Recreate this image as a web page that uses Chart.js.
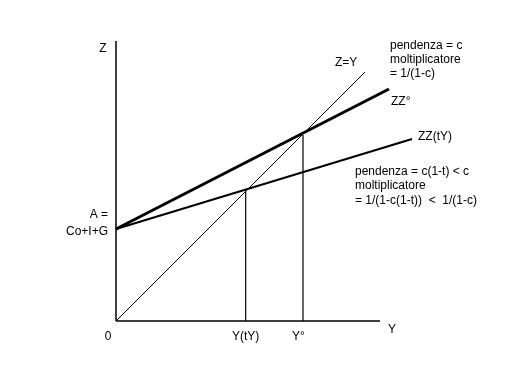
<!DOCTYPE html>
<html>
<head>
<meta charset="utf-8">
<script src="https://cdn.jsdelivr.net/npm/chart.js@4/dist/chart.umd.min.js"></script>
<style>
  html, body { margin: 0; padding: 0; background: #fff; }
  #wrap { width: 512px; height: 384px; }
</style>
</head>
<body>
<div id="wrap"><canvas id="c" width="512" height="384"></canvas></div>
<script>
// Keynesian cross: Z = Y against ZZ° (slope c) and ZZ(tY) (slope c(1-t))
const axisX    = [[0, 0], [26.4, 0]]
const axisY    = [[0, 0], [0, 28]]
const lineZY   = [[0, 0], [24.9, 24.9]]
const lineZZo  = [[0, 9.2], [27.3, 23.2]]
const lineZZt  = [[0, 9.2], [29.6, 18.2]]
const dropTY   = [[12.97, 0], [12.97, 13.1]]
const dropO    = [[18.7, 0], [18.7, 18.6]]

// text labels: [text, x, y, align]
const labels = [
  ["Z", -1.3, 27.2, "center"],
  ["Z=Y", 21.9, 25.8, "left"],
  ["ZZ°", 27.5, 21.9, "left"],
  ["ZZ(tY)", 30.2, 18.4, "left"],
  ["pendenza = c", 27.4, 27.5, "left"],
  ["moltiplicatore", 27.4, 26.1, "left"],
  ["= 1/(1-c)", 27.4, 24.7, "left"],
  ["pendenza = c(1-t) < c", 23.9, 14.95, "left"],
  ["moltiplicatore", 23.9, 13.5, "left"],
  ["= 1/(1-c(1-t))  <  1/(1-c)", 23.9, 12.0, "left"],
  ["A =", -0.8, 10.6, "right"],
  ["Co+I+G", -0.8, 8.9, "right"],
  ["0", -0.8, -1.6, "center"],
  ["Y(tY)", 12.97, -1.6, "center"],
  ["Y°", 18.25, -1.6, "center"],
  ["Y", 27.6, -0.9, "center"]
]

const toPts = (arr) => arr.map(([x, y]) => ({ x, y }))

const seg = (data, width) => ({
  data: toPts(data),
  borderColor: "#000",
  borderWidth: width,
  pointRadius: 0,
  showLine: true,
  fill: false,
  clip: false
})

const textPlugin = {
  id: "texts",
  afterDatasetsDraw(chart) {
    const { ctx, scales: { x, y } } = chart
    ctx.save()
    ctx.fillStyle = "#000"
    ctx.font = "12px 'Liberation Sans', Arial, sans-serif"
    ctx.textBaseline = "middle"
    labels.forEach(([t, vx, vy, align]) => {
      ctx.textAlign = align
      ctx.fillText(t, x.getPixelForValue(vx), y.getPixelForValue(vy))
    })
    ctx.restore()
  }
}

new Chart(document.getElementById("c").getContext("2d"), {
  type: "scatter",
  data: {
    datasets: [
      seg(axisX, 1.5),
      seg(axisY, 1.5),
      seg(lineZY, 1),
      seg(lineZZo, 3),
      seg(lineZZt, 2),
      seg(dropTY, 1.2),
      seg(dropO, 1.2)
    ]
  },
  options: {
    responsive: false,
    animation: false,
    events: [],
    layout: { padding: { left: 116, top: 41, right: 100, bottom: 63 } },
    plugins: { legend: { display: false }, tooltip: { enabled: false } },
    scales: {
      x: { type: "linear", min: 0, max: 29.6, display: false },
      y: { type: "linear", min: 0, max: 28, display: false }
    }
  },
  plugins: [textPlugin]
})
</script>
</body>
</html>
